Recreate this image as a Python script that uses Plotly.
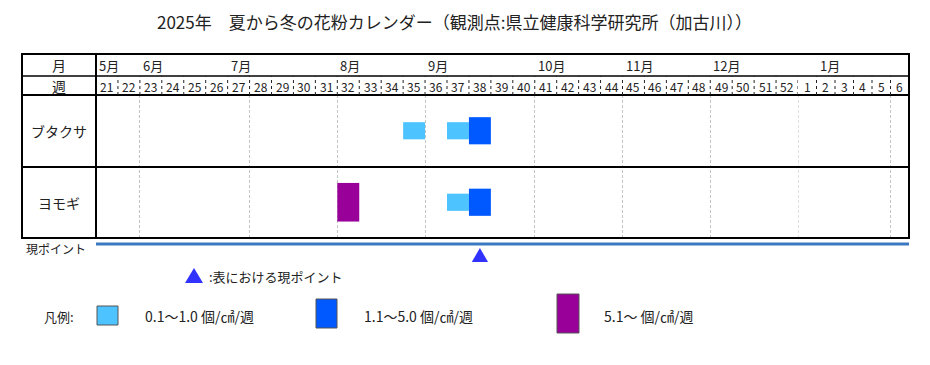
import plotly.graph_objects as go

# ---------------- data ----------------
title_text = "2025年　夏から冬の花粉カレンダー（観測点:県立健康科学研究所（加古川））"
weeks_2025 = list(range(21, 53))          # 21..52
weeks_2026 = list(range(1, 7))            # 1..6
month_labels = ["5月", "6月", "7月", "8月", "9月", "10月", "11月", "12月", "1月"]
month_label_weeks = [21, 23, 27, 32, 36, 41, 45, 49, 2]
month_label_year = [0, 0, 0, 0, 0, 0, 0, 0, 1]   # 0 -> 2025 axis, 1 -> 2026 axis
month_lines_2025 = [23, 28, 32, 36, 41, 45, 49]
month_lines_2026 = [1, 6]
plants = ["ブタクサ", "ヨモギ"]
# observations: plant, week, level (1: 0.1-1.0, 2: 1.1-5.0, 3: 5.1-)
obs_plant = ["ブタクサ", "ブタクサ", "ブタクサ", "ヨモギ", "ヨモギ", "ヨモギ"]
obs_week = [35, 37, 38, 32, 37, 38]
obs_level = [1, 1, 2, 3, 1, 2]
current_week = 38
legend_labels = ["0.1～1.0 個/㎠/週", "1.1～5.0 個/㎠/週", "5.1～ 個/㎠/週"]

# ---------------- style ----------------
W, H = 930, 365
OFF = 8   # page body margin
FONT = "Noto Sans CJK JP, Noto Sans, sans-serif"
LEVEL_COLOR = {1: "#4dc4ff", 2: "#0058ff", 3: "#990099"}
LEVEL_HEIGHT = {1: 0.24, 2: 0.38, 3: 0.54}
row_pos = {"ブタクサ": 1.5, "ヨモギ": 0.5}
TRI_COLOR = "#3232ff"

def px(x):
    return (x - OFF) / W

def py(y):
    return 1 - (y - OFF) / H

TBL_L, TBL_R = 22, 909
TBL_T, HDR1, HDR2, ROWDIV, TBL_B = 54, 76, 95, 167, 238
LBL_R = 96
SPLIT = 798

fig = go.Figure()

# bars by level
for lvl in (1, 2, 3):
    idx = [i for i in range(len(obs_week)) if obs_level[i] == lvl]
    fig.add_trace(go.Bar(
        orientation="h",
        y=[row_pos[obs_plant[i]] for i in idx],
        x=[1] * len(idx),
        base=[obs_week[i] for i in idx],
        width=[LEVEL_HEIGHT[lvl]] * len(idx),
        marker=dict(color=LEVEL_COLOR[lvl], line=dict(width=0)),
        showlegend=False, hoverinfo="skip",
    ))

# dummy trace for second axis
fig.add_trace(go.Scatter(x=[], y=[], xaxis="x2", yaxis="y", showlegend=False))

grid = dict(showgrid=True, gridcolor="#c4c4c4", griddash="3px,2px", gridwidth=1)
fig.update_layout(
    width=W, height=H, autosize=False,
    margin=dict(l=0, r=0, t=0, b=0),
    paper_bgcolor="white", plot_bgcolor="white",
    barmode="overlay",
    font=dict(family=FONT, color="#222"),
    xaxis=dict(domain=[px(LBL_R), px(SPLIT)], range=[21, 53],
               showticklabels=False, showgrid=False, zeroline=False, showline=False,
               ticks="", fixedrange=True,
               minor=dict(tickmode="array", tickvals=month_lines_2025, ticks="", **grid)),
    xaxis2=dict(domain=[px(SPLIT), px(TBL_R)], range=[1, 7], anchor="y",
                showticklabels=False, showgrid=False, zeroline=False, showline=False,
                ticks="", fixedrange=True,
                minor=dict(tickmode="array", tickvals=month_lines_2026, ticks="", **grid)),
    yaxis=dict(domain=[py(TBL_B), py(HDR2)], range=[0, 2],
               showticklabels=False, showgrid=False, zeroline=False, showline=False,
               fixedrange=True),
)

shapes = []
def hline(y, x0, x1, w=2, color="black", dash="solid"):
    shapes.append(dict(type="line", xref="paper", yref="paper", x0=px(x0), x1=px(x1),
                       y0=py(y), y1=py(y), line=dict(color=color, width=w, dash=dash)))
def vline(x, y0, y1, w=2, color="black", dash="solid"):
    shapes.append(dict(type="line", xref="paper", yref="paper", x0=px(x), x1=px(x),
                       y0=py(y0), y1=py(y1), line=dict(color=color, width=w, dash=dash)))

# month line at the year boundary (edge between the two week axes)
for w in month_lines_2026[:1]:
    shapes.append(dict(type="line", xref="x2", yref="paper", x0=w, x1=w,
                       y0=py(TBL_B), y1=py(HDR2),
                       line=dict(color="#c4c4c4", width=1, dash="3px,2px")))

# table frame
hline(HDR1, TBL_L, TBL_R, w=1.5)
hline(HDR2, TBL_L, TBL_R, w=2)
hline(ROWDIV, TBL_L, TBL_R, w=2)
vline(LBL_R, TBL_T, TBL_B, w=2)
shapes.append(dict(type="rect", xref="paper", yref="paper", x0=px(TBL_L), x1=px(TBL_R),
                   y0=py(TBL_B), y1=py(TBL_T), line=dict(color="black", width=2)))

# week separators (dotted) in the week row
for w in weeks_2025[1:] + [53]:
    shapes.append(dict(type="line", xref="x", yref="paper", x0=w, x1=w,
                       y0=py(HDR2), y1=py(HDR1), line=dict(color="#222", width=1, dash="dot")))
for w in weeks_2026[1:]:
    shapes.append(dict(type="line", xref="x2", yref="paper", x0=w, x1=w,
                       y0=py(HDR2), y1=py(HDR1), line=dict(color="#222", width=1, dash="dot")))

# current point line
hline(244, LBL_R, TBL_R, w=3, color="#3a78bf")

# current point triangle (placed on the week axis)
cx = current_week + 0.5
shapes.append(dict(type="path", xref="x", yref="paper",
                   path=f"M {cx - 0.37},{py(262)} L {cx + 0.37},{py(262)} L {cx},{py(248)} Z",
                   fillcolor=TRI_COLOR, line=dict(width=0)))

# legend triangle
shapes.append(dict(type="path", xref="paper", yref="paper",
                   path=f"M {px(185)},{py(283)} L {px(203)},{py(283)} L {px(194)},{py(268)} Z",
                   fillcolor=TRI_COLOR, line=dict(width=0)))

# legend swatches
sw = [(97, 118, 306, 325), (316, 337, 299, 328), (557, 579, 294, 333)]
for (x0, x1, y0, y1), lvl in zip(sw, (1, 2, 3)):
    shapes.append(dict(type="rect", xref="paper", yref="paper", x0=px(x0), x1=px(x1),
                       y0=py(y1), y1=py(y0), fillcolor=LEVEL_COLOR[lvl],
                       line=dict(color="#555", width=1)))

# faint page edge
vline(925, 0, 362, w=1, color="#e4e4e4")

fig.update_layout(shapes=shapes)

ann = []
def text(x, y, s, size=13, xanchor="center", color="#222"):
    ann.append(dict(x=px(x), y=py(y), xref="paper", yref="paper",
                    text=s, showarrow=False, xanchor=xanchor, yanchor="middle",
                    font=dict(size=size, family=FONT, color=color)))

text(454, 22, title_text, size=17)
text(59, 65, "月", size=14)
text(59, 86, "週", size=14)
for p in plants:
    text(59, 131 if p == "ブタクサ" else 203, p, size=14)
for w in weeks_2025:
    ann.append(dict(x=w + 0.5, y=py(86), xref="x", yref="paper", text=str(w), showarrow=False,
                    xanchor="center", yanchor="middle", font=dict(size=12, family=FONT, color="#222")))
for w in weeks_2026:
    ann.append(dict(x=w + 0.5, y=py(86), xref="x2", yref="paper", text=str(w), showarrow=False,
                    xanchor="center", yanchor="middle", font=dict(size=12, family=FONT, color="#222")))
for lab, wk, yr in zip(month_labels, month_label_weeks, month_label_year):
    ann.append(dict(x=wk, y=py(65), xref="x" if yr == 0 else "x2", yref="paper", text=lab,
                    showarrow=False, xanchor="left", yanchor="middle", xshift=1,
                    font=dict(size=13, family=FONT, color="#222")))
text(24, 248, "現ポイント", size=12, xanchor="left")
text(207, 276, ":表における現ポイント", size=13, xanchor="left")
text(42, 316, "凡例:", size=13, xanchor="left")
for lab, x0 in zip(legend_labels, (143, 362, 602)):
    text(x0, 316, lab, size=14, xanchor="left")

fig.update_layout(annotations=ann)
fig.write_html("out.html")
